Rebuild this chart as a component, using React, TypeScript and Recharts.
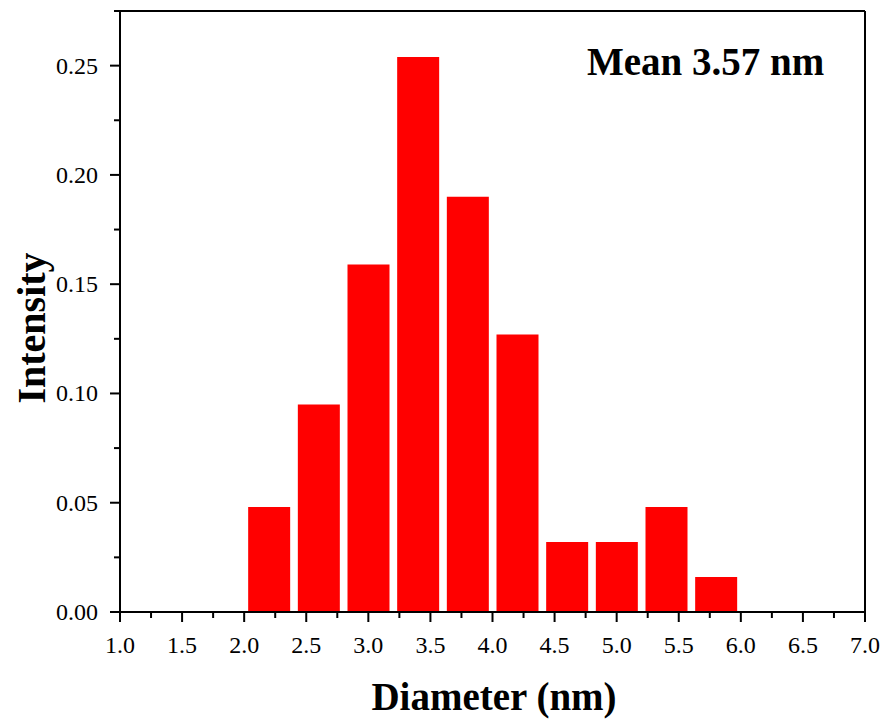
import React from 'react';
import { BarChart, Bar, XAxis, YAxis, ReferenceLine, Label } from 'recharts';

// histogram bins (nm) and normalised intensity
const diameters = [2.2, 2.6, 3.0, 3.4, 3.8, 4.2, 4.6, 5.0, 5.4, 5.8];
const intensities = [0.048, 0.095, 0.159, 0.254, 0.19, 0.127, 0.032, 0.032, 0.048, 0.016];

const xMajorTicks = [1.0, 1.5, 2.0, 2.5, 3.0, 3.5, 4.0, 4.5, 5.0, 5.5, 6.0, 6.5, 7.0];
const xMinorTicks = [1.25, 1.75, 2.25, 2.75, 3.25, 3.75, 4.25, 4.75, 5.25, 5.75, 6.25, 6.75];
const yMajorTicks = [0, 0.05, 0.1, 0.15, 0.2, 0.25];
const yMinorTicks = [0.025, 0.075, 0.125, 0.175, 0.225, 0.275];

const data = diameters.map((d, i) => ({ d, v: intensities[i] }));

const font = '"Liberation Serif", "Times New Roman", serif';

const isMajor = (list: number[], v: number) => list.some((t) => Math.abs(t - v) < 1e-6);

const XTick = (props: any) => {
  const { x, y, payload } = props;
  const major = isMajor(xMajorTicks, payload.value);
  return (
    <g>
      <line x1={x} x2={x} y1={y} y2={y + (major ? 10 : 6)} stroke="#000" strokeWidth={2} />
      {major && (
        <text x={x} y={y + 41} textAnchor="middle" fontFamily={font} fontSize={24} fill="#000">
          {payload.value.toFixed(1)}
        </text>
      )}
    </g>
  );
};

const YTick = (props: any) => {
  const { x, y, payload } = props;
  const major = isMajor(yMajorTicks, payload.value);
  return (
    <g>
      <line x1={x - (major ? 10 : 6)} x2={x} y1={y} y2={y} stroke="#000" strokeWidth={2} />
      {major && (
        <text x={x - 22} y={y + 8} textAnchor="end" fontFamily={font} fontSize={24} fill="#000">
          {payload.value.toFixed(2)}
        </text>
      )}
    </g>
  );
};

export default function App() {
  return (
    <BarChart
      width={880}
      height={712}
      data={data}
      margin={{ top: 3, right: 23, bottom: 0, left: 0 }}
    >
      <XAxis
        dataKey="d"
        type="number"
        domain={[1, 7]}
        ticks={[...xMajorTicks, ...xMinorTicks]}
        interval={0}
        height={108}
        tickSize={0}
        tickMargin={0}
        tickLine={false}
        tick={<XTick />}
        axisLine={{ stroke: '#000', strokeWidth: 2 }}
      >
        <Label
          content={() => (
            <text x={486} y={702} textAnchor="middle" fontFamily={font} fontSize={39} fontWeight="bold" fill="#000">
              Diameter (nm)
            </text>
          )}
        />
      </XAxis>
      <YAxis
        type="number"
        domain={[0, 0.275]}
        ticks={[...yMajorTicks, ...yMinorTicks]}
        interval={0}
        width={112}
        tickSize={0}
        tickMargin={0}
        tickLine={false}
        tick={<YTick />}
        axisLine={{ stroke: '#000', strokeWidth: 2 }}
      >
        <Label
          content={() => (
            <text
              x={37}
              y={320}
              transform="rotate(-90, 37, 320)"
              textAnchor="middle"
              fontFamily={font}
              fontSize={40}
              fontWeight="bold"
              fill="#000"
            >
              Intensity
            </text>
          )}
        />
      </YAxis>
      <ReferenceLine x={7} stroke="#000" strokeWidth={2} />
      <ReferenceLine y={0.275} stroke="#000" strokeWidth={2}>
        <Label
          content={() => (
            <text x={579} y={67} textAnchor="start" fontFamily={font} fontSize={39} fontWeight="bold" fill="#000">
              Mean 3.57 nm
            </text>
          )}
        />
      </ReferenceLine>
      <Bar dataKey="v" fill="#ff0000" barSize={42} isAnimationActive={false} />
    </BarChart>
  );
}
